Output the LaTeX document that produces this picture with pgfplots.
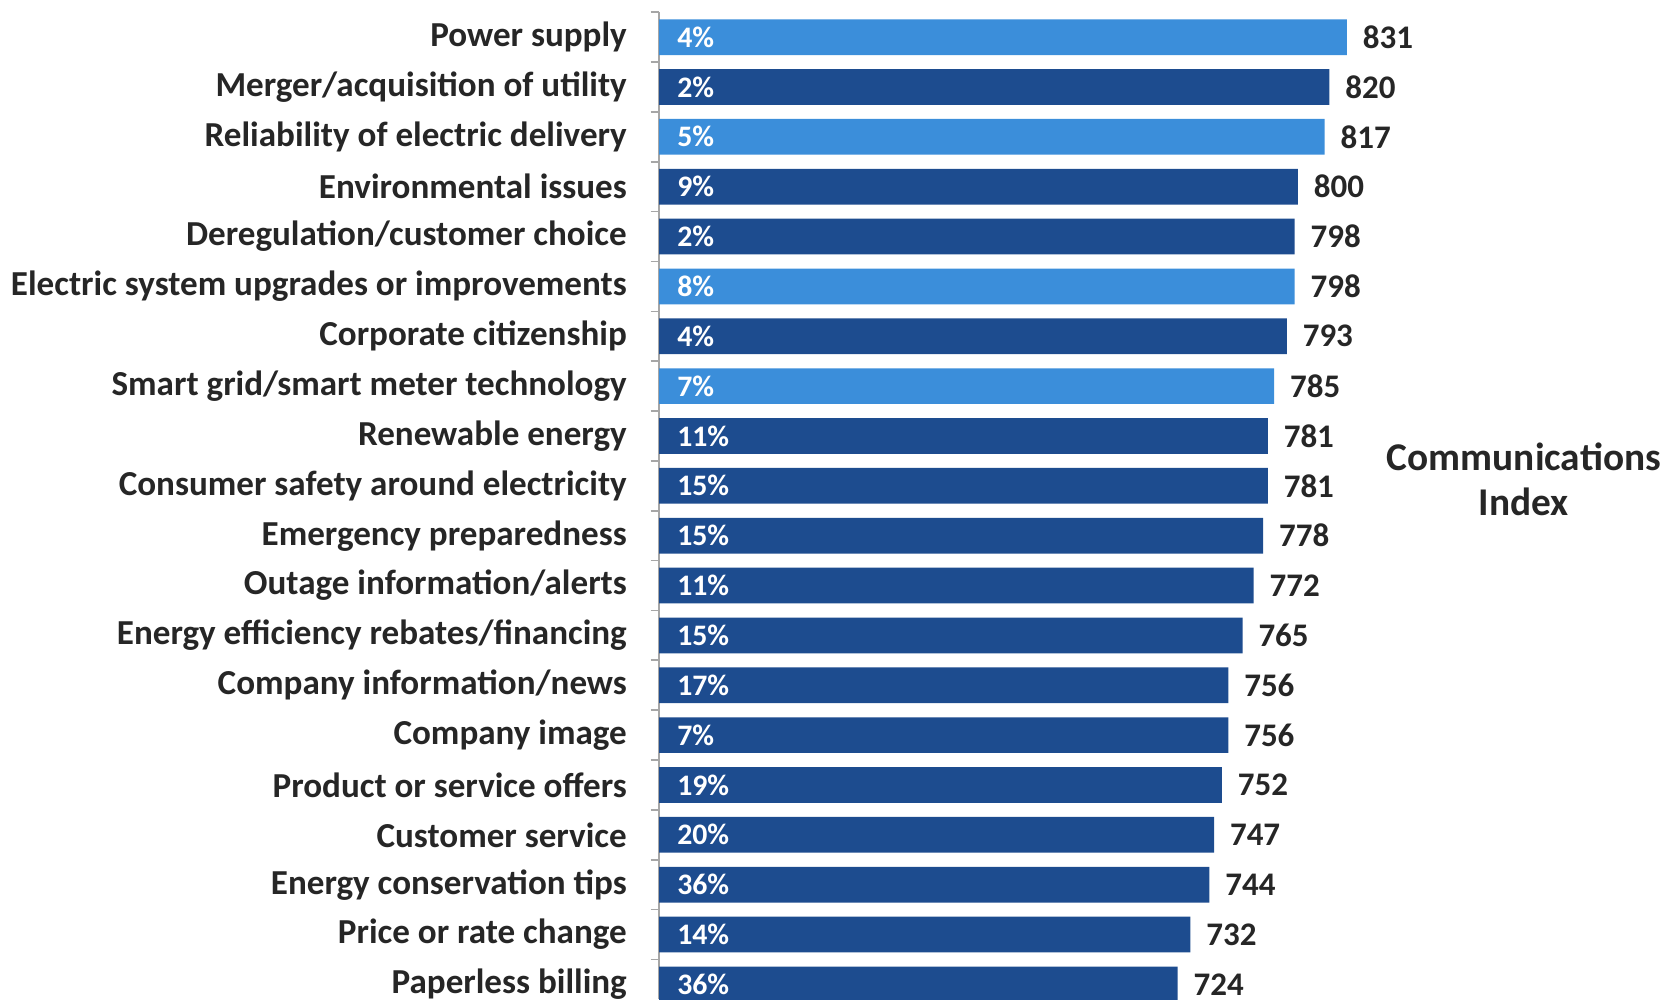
\documentclass[border=0pt]{standalone}
\usepackage{pgfplots}
\pgfplotsset{compat=1.18}
\usepackage{pgfplotstable}
\usepackage{fontspec}
\setmainfont{Carlito}
\definecolor{lightbar}{HTML}{3B8EDA}
\definecolor{darkbar}{HTML}{1D4C8F}
\definecolor{txt}{HTML}{262626}
\pgfplotstableread{
idx val pct
0 831 4
2 817 5
5 798 8
7 785 7
}\light
\pgfplotstableread{
idx val pct
1 820 2
3 800 9
4 798 2
6 793 4
8 781 11
9 781 15
10 778 15
11 772 11
12 765 15
13 756 17
14 756 7
15 752 19
16 747 20
17 744 36
18 732 14
19 724 36
}\dark
\pgfplotstableread{
idx pct
0 4
1 2
2 5
3 9
4 2
5 8
6 4
7 7
8 11
9 15
10 15
11 11
12 15
13 17
14 7
15 19
16 20
17 36
18 14
19 36
}\pcts
\begin{document}
\begin{tikzpicture}
\useasboundingbox (-310pt,0pt) rectangle (474pt,470pt);
\begin{axis}[
  at={(0pt,0pt)}, anchor=south west,
  scale only axis, width=474pt, height=464.25pt,
  xmin=396, xmax=1033.5,
  ymin=-0.5, ymax=19.3, y dir=reverse,
  axis x line=none,
  axis y line*=left,
  y axis line style={draw=gray!70, line width=0.8pt},
  ytick={0,...,19},
  yticklabels={Power supply, Merger/acquisition of utility, Reliability of electric delivery, Environmental issues, Deregulation/customer choice, Electric system upgrades or improvements, Corporate citizenship, Smart grid/smart meter technology, Renewable energy, Consumer safety around electricity, Emergency preparedness, Outage information/alerts, Energy efficiency rebates/financing, Company information/news, Company image, Product or service offers, Customer service, Energy conservation tips, Price or rate change, Paperless billing},
  major tick length=0pt,
  minor ytick={-0.5,0.5,...,18.5},
  minor tick length=4pt,
  tick align=outside,
  ytick pos=left,
  minor tick style={draw=gray!70, line width=0.8pt},
  yticklabel style={inner sep=0pt, xshift=-15pt, font=\fontsize{16.5}{19}\selectfont\bfseries, text=txt},
  /pgf/number format/assume math mode=true,
  clip=true,
]
\addplot[xbar, bar width=16.8pt, bar shift=0pt, fill=lightbar, draw=none,
  nodes near coords, point meta=x,
  every node near coord/.append style={anchor=west, xshift=4pt, font=\fontsize{15.5}{18}\selectfont\bfseries, text=txt}]
  table[x=val, y=idx] {\light};
\addplot[xbar, bar width=16.8pt, bar shift=0pt, fill=darkbar, draw=none,
  nodes near coords, point meta=x,
  every node near coord/.append style={anchor=west, xshift=4pt, font=\fontsize{15.5}{18}\selectfont\bfseries, text=txt}]
  table[x=val, y=idx] {\dark};
\addplot[xbar, bar width=16.8pt, bar shift=0pt, draw=none, fill=none,
  nodes near coords={\pgfmathprintnumber{\pgfplotspointmeta}\%}, point meta=explicit,
  every node near coord/.append style={anchor=west, xshift=5pt, font=\fontsize{14}{16}\selectfont\bfseries, text=white}]
  table[x expr=396, y=idx, meta=pct] {\pcts};
\node[align=center, font=\fontsize{18.5}{21.5}\selectfont\bfseries, text=txt] at (axis cs:943,8.87) {Communications\\Index};
\end{axis}
\end{tikzpicture}
\end{document}
